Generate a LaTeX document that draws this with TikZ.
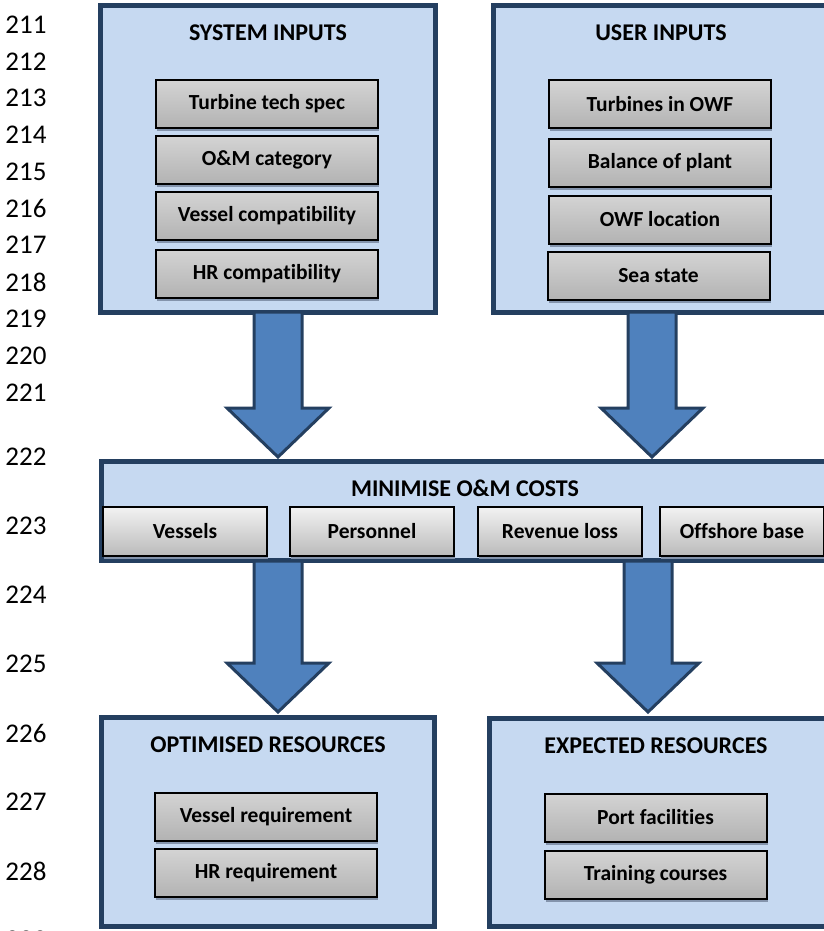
\documentclass[tikz,border=0pt]{standalone}
\usepackage{fontspec}
\setmainfont{Carlito}[Ligatures=NoCommon]
\usetikzlibrary{calc,shadows}

\definecolor{panelblue}{HTML}{C6D9F1}
\definecolor{paneledge}{HTML}{243F60}
\definecolor{arrowblue}{HTML}{4F81BD}
\definecolor{shadowgrey}{HTML}{8494AC}

%block arrow pointing down, from #1 to tip #2
\newcommand{\fatarrow}[2]{%
	\draw[fat arrow] ($(#1)+(-24,0)$) -- ($(#2)+(-24,-49)$) -- ($(#2)+(-51,-49)$) -- (#2)
		-- ($(#2)+(51,-49)$) -- ($(#2)+(24,-49)$) -- ($(#1)+(24,0)$) -- cycle;}

\begin{document}
\begin{tikzpicture}[x=1pt, y=-1pt,
	panel/.style={draw=paneledge, fill=panelblue, line width=5pt, inner sep=0pt, outer sep=0pt},
	heading/.style={font=\bfseries\fontsize{24}{28}\selectfont},
	item/.style={draw=black, line width=2pt, top color=black!17, bottom color=black!30, inner sep=0pt,
		minimum width=222pt, minimum height=48pt, font=\bfseries\fontsize{21.5}{25}\selectfont,
		drop shadow={shadow xshift=1pt, shadow yshift=-3pt, fill=shadowgrey, opacity=1}},
	costitem/.style={item, top color=black!5, bottom color=black!27, minimum width=164pt, minimum height=49pt},
	fat arrow/.style={draw=paneledge, fill=arrowblue, line width=3pt, line join=miter},
	lineno/.style={anchor=east, font=\fontsize{27}{32}\selectfont}]
	\useasboundingbox (0,0) rectangle (823,931);

	%line numbers
	\node[lineno] (l211) at (50,25) {211};
	\node[lineno] (l212) at (50,62) {212};
	\node[lineno] (l213) at (50,98) {213};
	\node[lineno] (l214) at (50,135) {214};
	\node[lineno] (l215) at (50,172) {215};
	\node[lineno] (l216) at (50,208) {216};
	\node[lineno] (l217) at (50,245) {217};
	\node[lineno] (l218) at (50,282) {218};
	\node[lineno] (l219) at (50,319) {219};
	\node[lineno] (l220) at (50,356) {220};
	\node[lineno] (l221) at (50,393) {221};
	\node[lineno] (l222) at (50,457) {222};
	\node[lineno] (l223) at (50,526) {223};
	\node[lineno] (l224) at (50,595) {224};
	\node[lineno] (l225) at (50,664) {225};
	\node[lineno] (l226) at (50,733) {226};
	\node[lineno] (l227) at (50,802) {227};
	\node[lineno] (l228) at (50,871) {228};
	\node[lineno] (l229) at (50,940) {229};

	%system inputs
	\node[panel, minimum width=335pt, minimum height=307pt] (sys) at (268,159) {};
	\node[heading] (systitle) at (268,33) {SYSTEM INPUTS};
	\node[item] (spec) at (267,104) {Turbine tech spec};
	\node[item] (category) at (267,160) {O\&M category};
	\node[item] (vesselcomp) at (267,216) {Vessel compatibility};
	\node[item] (hrcomp) at (267,273.5) {HR compatibility};

	%user inputs
	\node[panel, minimum width=341.5pt, minimum height=307pt] (user) at (664.25,159) {};
	\node[heading] (usertitle) at (661,33) {USER INPUTS};
	\node[item] (turbines) at (660,104.5) {Turbines in OWF};
	\node[item] (balance) at (660,162.5) {Balance of plant};
	\node[item] (location) at (660,219.5) {OWF location};
	\node[item] (seastate) at (658.5,276) {Sea state};

	%arrows into the cost box
	\coordinate (a1s) at (278,312);
	\coordinate (a1t) at (278,457);
	\coordinate (a2s) at (652,312);
	\coordinate (a2t) at (652,457);
	\fatarrow{a1s}{a1t}
	\fatarrow{a2s}{a2t}

	%minimise costs
	\node[panel, minimum width=733.5pt, minimum height=99pt] (costs) at (468.25,511) {};
	\node[heading] (coststitle) at (465,488) {MINIMISE O\&M COSTS};
	\node[costitem] (vessels) at (185,531.5) {Vessels};
	\node[costitem] (personnel) at (372,531.5) {Personnel};
	\node[costitem] (revenue) at (560,531.5) {Revenue loss};
	\node[costitem] (offshore) at (742,531.5) {Offshore base};

	%arrows out of the cost box
	\coordinate (a3s) at (278,561);
	\coordinate (a3t) at (278,712);
	\coordinate (a4s) at (648,561);
	\coordinate (a4t) at (648,712);
	\fatarrow{a3s}{a3t}
	\fatarrow{a4s}{a4t}

	%optimised resources
	\node[panel, minimum width=333pt, minimum height=209pt] (opt) at (268,822) {};
	\node[heading] (opttitle) at (268,745) {OPTIMISED RESOURCES};
	\node[item] (vesselreq) at (266,816.5) {Vessel requirement};
	\node[item] (hrreq) at (266,873) {HR requirement};

	%expected resources
	\node[panel, minimum width=350.5pt, minimum height=208pt] (exp) at (664.75,822.5) {};
	\node[heading] (exptitle) at (656,746) {EXPECTED RESOURCES};
	\node[item] (port) at (655.5,817.5) {Port facilities};
	\node[item] (training) at (655.5,874.5) {Training courses};

\end{tikzpicture}
\end{document}
